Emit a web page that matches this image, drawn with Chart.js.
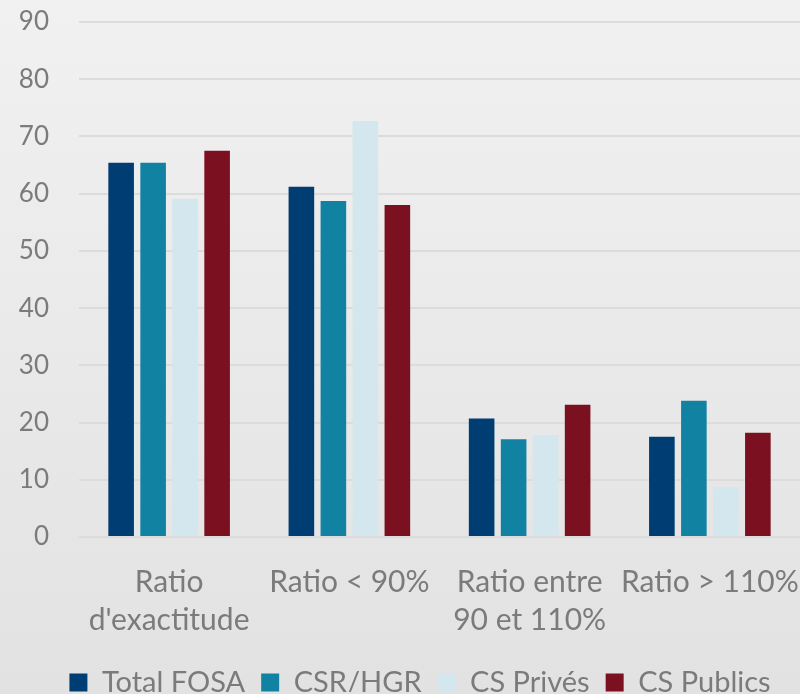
<!DOCTYPE html>
<html>
<head>
<meta charset="utf-8">
<script src="https://cdn.jsdelivr.net/npm/chart.js@4/dist/chart.umd.min.js"></script>
<style>
  html, body { margin: 0; padding: 0; background: #e8e8e8; }
  #wrap { width: 800px; height: 694px; }
</style>
</head>
<body>
<div id="wrap"><canvas id="myChart" width="800" height="694"></canvas></div>
<script>
const categories = [['Ratio', "d'exactitude"], ['Ratio < 90%'], ['Ratio entre', '90 et 110%'], ['Ratio > 110%']];
const totalFosa = [65.4, 61.2, 20.7, 17.5];
const csrHgr = [65.4, 58.7, 17.1, 23.8];
const csPrives = [59.1, 72.7, 17.8, 8.7];
const csPublics = [67.5, 58.0, 23.1, 18.2];

const textGray = '#7b7b7b';
const fontFamily = 'Lato, "Noto Sans", sans-serif';

// soft grey gradient behind the whole chart
const bgPlugin = {
    id: 'bg',
    beforeDraw(chart) {
        const ctx = chart.ctx;
        const g = ctx.createLinearGradient(0, 0, 0, chart.height);
        g.addColorStop(0, '#f1f1f1');
        g.addColorStop(1, '#e2e2e2');
        ctx.save();
        ctx.fillStyle = g;
        ctx.fillRect(0, 0, chart.width, chart.height);
        ctx.restore();
    }
};

// legend: fixed 40px tall box, then nudged to sit at the very bottom
const legendPlace = {
    id: 'legendPlace',
    beforeLayout(chart) {
        const lg = chart.legend;
        if (lg && !lg._fixedFit) {
            const fit = lg.fit.bind(lg);
            lg.fit = function () { fit(); this.height = 40; };
            lg._fixedFit = true;
        }
    },
    afterLayout(chart) {
        const lg = chart.legend;
        const dy = 672 - (lg.top + lg.height / 2);
        lg.top += dy;
        lg.bottom += dy;
        lg.left += 20;
        lg.right += 20;
    }
};

const ctx = document.getElementById('myChart').getContext('2d');
const chart = new Chart(ctx, {
    type: 'bar',
    data: {
        labels: categories,
        datasets: [
            { label: 'Total FOSA', data: totalFosa, backgroundColor: '#003d73' },
            { label: 'CSR/HGR', data: csrHgr, backgroundColor: '#1282a2' },
            { label: 'CS Privés', data: csPrives, backgroundColor: '#d4e6ee' },
            { label: 'CS Publics', data: csPublics, backgroundColor: '#7b1120' }
        ]
    },
    options: {
        responsive: false,
        animation: false,
        layout: { padding: { top: 22, right: 0, left: 0, bottom: 0 } },
        datasets: {
            bar: { categoryPercentage: 0.71, barPercentage: 0.8 }
        },
        plugins: {
            legend: {
                position: 'bottom',
                labels: {
                    boxWidth: 18,
                    boxHeight: 18,
                    padding: 16,
                    color: textGray,
                    font: { family: fontFamily, size: 29 }
                }
            },
            tooltip: { enabled: false }
        },
        scales: {
            x: {
                grid: { display: false },
                border: { display: false },
                ticks: {
                    color: textGray,
                    padding: 18,
                    maxRotation: 0,
                    autoSkip: false,
                    font: { family: fontFamily, size: 30, lineHeight: 1.27 }
                },
                afterFit: (scale) => {
                    scale.height = 117;
                    scale.paddingLeft = 0;
                    scale.paddingRight = 0;
                }
            },
            y: {
                min: 0,
                max: 90,
                ticks: {
                    stepSize: 10,
                    color: textGray,
                    padding: 30,
                    font: { family: fontFamily, size: 26 }
                },
                grid: { color: '#dcdcdc', lineWidth: 2, drawTicks: false },
                border: { display: false },
                afterFit: (scale) => {
                    scale.width = 79;
                    scale.paddingTop = 0;
                    scale.paddingBottom = 0;
                }
            }
        }
    },
    plugins: [bgPlugin, legendPlace]
});
</script>
</body>
</html>
